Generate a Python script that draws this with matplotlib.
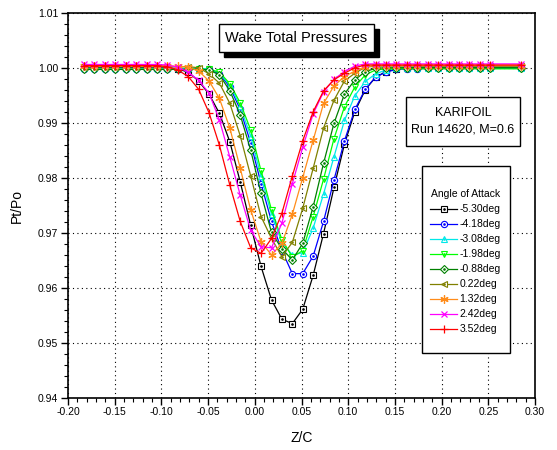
import matplotlib
matplotlib.use('Agg')
import matplotlib.pyplot as plt
from matplotlib.patches import Rectangle
from matplotlib.legend_handler import HandlerTuple
from matplotlib.ticker import MultipleLocator, FormatStrFormatter

plt.rcParams['font.family'] = ['Liberation Sans', 'DejaVu Sans']

# -- traverse positions (Z/C) --
Z = [-0.1828, -0.1717, -0.1605, -0.1494, -0.1382, -0.1271, -0.1159, -0.1048,
     -0.0936, -0.0825, -0.0713, -0.0602, -0.0490, -0.0379, -0.0267, -0.0156,
     -0.0044, 0.0067, 0.0179, 0.0290, 0.0402, 0.0513, 0.0625, 0.0736,
     0.0848, 0.0960, 0.1071, 0.1183, 0.1294, 0.1406, 0.1517, 0.1629,
     0.1740, 0.1852, 0.1963, 0.2075, 0.2186, 0.2298, 0.2409, 0.2521, 0.2855]

# -- Pt/Po for each angle of attack --
P_m530 = [1.0002, 1.0002, 1.0001, 1.0002, 1.0001, 1.0002, 1.0001, 1.0001, 1.0001, 0.9999,
          0.9993, 0.9977, 0.9953, 0.9918, 0.9866, 0.9793, 0.9714, 0.9639, 0.9578, 0.9543,
          0.9535, 0.9561, 0.9623, 0.9699, 0.9783, 0.9862, 0.9921, 0.9961, 0.9984, 0.9994,
          0.9999, 1.0001, 1.0002, 1.0002, 1.0002, 1.0002, 1.0002, 1.0002, 1.0002, 1.0002, 1.0002]
P_m418 = [0.9999, 0.9999, 0.9999, 0.9999, 0.9999, 0.9999, 0.9999, 0.9999, 0.9999, 0.9999,
          0.9999, 0.9999, 0.9998, 0.9990, 0.9966, 0.9925, 0.9864, 0.9790, 0.9721, 0.9668,
          0.9626, 0.9626, 0.9658, 0.9721, 0.9797, 0.9868, 0.9925, 0.9962, 0.9984, 0.9993,
          0.9998, 0.9999, 0.9999, 1.0000, 1.0000, 1.0000, 1.0000, 1.0000, 1.0000, 1.0000, 1.0000]
P_m308 = [1.0000, 1.0000, 1.0000, 1.0000, 1.0000, 1.0000, 1.0000, 1.0000, 1.0000, 1.0000,
          1.0000, 1.0000, 0.9999, 0.9992, 0.9969, 0.9931, 0.9876, 0.9803, 0.9734, 0.9683,
          0.9660, 0.9664, 0.9709, 0.9771, 0.9839, 0.9905, 0.9950, 0.9976, 0.9990, 0.9997,
          1.0000, 1.0000, 1.0000, 1.0000, 1.0000, 1.0000, 1.0000, 1.0000, 1.0000, 1.0000, 1.0000]
P_m198 = [0.9998, 0.9998, 0.9998, 0.9998, 0.9998, 0.9998, 0.9998, 0.9998, 0.9998, 0.9998,
          0.9998, 0.9998, 0.9998, 0.9993, 0.9972, 0.9937, 0.9888, 0.9813, 0.9742, 0.9688,
          0.9656, 0.9668, 0.9730, 0.9798, 0.9872, 0.9930, 0.9966, 0.9988, 0.9997, 0.9999,
          0.9999, 0.9999, 0.9999, 0.9999, 0.9999, 0.9999, 0.9999, 0.9999, 0.9999, 0.9999, 0.9999]
P_m088 = [0.9998, 0.9998, 0.9998, 0.9998, 0.9998, 0.9998, 0.9998, 0.9998, 0.9998, 0.9998,
          0.9998, 0.9998, 0.9997, 0.9988, 0.9959, 0.9915, 0.9851, 0.9772, 0.9701, 0.9671,
          0.9651, 0.9681, 0.9748, 0.9827, 0.9900, 0.9953, 0.9979, 0.9994, 1.0000, 1.0001,
          1.0001, 1.0001, 1.0001, 1.0001, 1.0001, 1.0001, 1.0001, 1.0001, 1.0001, 1.0001, 1.0001]
P_p022 = [1.0003, 1.0003, 1.0003, 1.0003, 1.0003, 1.0003, 1.0003, 1.0003, 1.0003, 1.0003,
          1.0003, 1.0001, 0.9990, 0.9973, 0.9936, 0.9877, 0.9804, 0.9730, 0.9690, 0.9657,
          0.9683, 0.9745, 0.9818, 0.9891, 0.9942, 0.9977, 0.9991, 1.0002, 1.0004, 1.0004,
          1.0004, 1.0004, 1.0004, 1.0004, 1.0004, 1.0004, 1.0004, 1.0004, 1.0004, 1.0004, 1.0004]
P_p132 = [1.0004, 1.0004, 1.0004, 1.0004, 1.0004, 1.0004, 1.0004, 1.0004, 1.0004, 1.0004,
          1.0002, 0.9995, 0.9977, 0.9945, 0.9891, 0.9818, 0.9742, 0.9684, 0.9660, 0.9681,
          0.9734, 0.9801, 0.9869, 0.9936, 0.9968, 0.9985, 0.9995, 1.0003, 1.0005, 1.0005,
          1.0005, 1.0005, 1.0005, 1.0005, 1.0005, 1.0005, 1.0005, 1.0005, 1.0005, 1.0005, 1.0005]
P_p242 = [1.0007, 1.0007, 1.0007, 1.0007, 1.0007, 1.0007, 1.0007, 1.0007, 1.0006, 1.0002,
          0.9993, 0.9978, 0.9955, 0.9906, 0.9838, 0.9769, 0.9705, 0.9675, 0.9673, 0.9718,
          0.9790, 0.9856, 0.9917, 0.9957, 0.9980, 0.9994, 1.0004, 1.0008, 1.0008, 1.0008,
          1.0008, 1.0008, 1.0008, 1.0008, 1.0008, 1.0008, 1.0008, 1.0008, 1.0008, 1.0008, 1.0008]
P_p352 = [1.0005, 1.0005, 1.0005, 1.0005, 1.0005, 1.0005, 1.0005, 1.0005, 1.0003, 0.9997,
          0.9985, 0.9962, 0.9919, 0.9860, 0.9787, 0.9721, 0.9673, 0.9663, 0.9690, 0.9736,
          0.9804, 0.9868, 0.9921, 0.9959, 0.9979, 0.9991, 1.0001, 1.0006, 1.0006, 1.0006,
          1.0006, 1.0006, 1.0006, 1.0006, 1.0006, 1.0006, 1.0006, 1.0006, 1.0006, 1.0006, 1.0006]

LABELS = ['-5.30deg', '-4.18deg', '-3.08deg', '-1.98deg', '-0.88deg',
          '0.22deg', '1.32deg', '2.42deg', '3.52deg']
SERIES = [P_m530, P_m418, P_m308, P_m198, P_m088, P_p022, P_p132, P_p242, P_p352]

COLORS = ['#000000', '#0000FF', '#00E8E8', '#00FF00', '#008000',
          '#808000', '#FF8C1A', '#FF00FF', '#FF0000']
MARKERS = ['s', 'o', '^', 'v', 'D', '<', (6, 2, 0), 'x', '+']
MSIZE = [4, 4.5, 4.5, 4.5, 3.8, 4.5, 6, 5, 6]
OPEN = [True, True, True, True, True, True, False, False, False]

W, H = 557, 450


def fx(x):
    return x / W


def fy(y):
    return 1 - y / H


fig = plt.figure(figsize=(W / 100, H / 100), dpi=100)
ax = fig.add_axes([fx(68), fy(397.7), (535 - 68) / W, (397.7 - 13.4) / H])

handles = []
for lab, ys, c, m, ms, op in zip(LABELS, SERIES, COLORS, MARKERS, MSIZE, OPEN):
    if op:
        ln, = ax.plot(Z, ys, color=c, lw=0.9, marker=m, ms=ms,
                      mfc='white', mec=c, mew=0.8)
        dot, = ax.plot(Z, ys, ls='none', marker='o', ms=0.9, color=c)
        handles.append((ln, dot))
    else:
        ln, = ax.plot(Z, ys, color=c, lw=0.9, marker=m, ms=ms, mec=c, mew=0.9)
        handles.append(ln)

ax.set_xlim(-0.20, 0.30)
ax.set_ylim(0.94, 1.01)
ax.xaxis.set_major_locator(MultipleLocator(0.05))
ax.xaxis.set_minor_locator(MultipleLocator(0.01))
ax.yaxis.set_major_locator(MultipleLocator(0.01))
ax.yaxis.set_minor_locator(MultipleLocator(0.002))
ax.xaxis.set_major_formatter(FormatStrFormatter('%.2f'))
ax.yaxis.set_major_formatter(FormatStrFormatter('%.2f'))
ax.tick_params(which='major', direction='out', length=5, width=1, labelsize=7.5, pad=2)
ax.tick_params(which='minor', direction='out', length=3, width=0.8)
ax.grid(True, which='major', color='black', ls=(0, (1, 3)), lw=0.8)
ax.set_axisbelow(True)
for sp in ax.spines.values():
    sp.set_linewidth(1.2)

ax.set_xlabel('Z/C', fontsize=10, labelpad=10)
ax.set_ylabel('Pt/Po', fontsize=10, labelpad=10)

# title box with drop shadow
fig.patches.append(Rectangle((fx(224), fy(57)), 155 / W, 28 / H, transform=fig.transFigure,
                             facecolor='black', edgecolor='black', zorder=5))
fig.patches.append(Rectangle((fx(219), fy(52)), 155 / W, 28 / H, transform=fig.transFigure,
                             facecolor='white', edgecolor='black', lw=1, zorder=6))
fig.text(fx(296.5), fy(38), 'Wake Total Pressures', ha='center', va='center',
         fontsize=10.5, zorder=7)

# run info box
fig.patches.append(Rectangle((fx(406), fy(146)), 114 / W, 49 / H, transform=fig.transFigure,
                             facecolor='white', edgecolor='black', lw=1, zorder=6))
fig.text(fx(463), fy(113), 'KARIFOIL', ha='center', va='center', fontsize=9, zorder=7)
fig.text(fx(463), fy(130), 'Run 14620, M=0.6', ha='center', va='center', fontsize=9, zorder=7)

# legend box
fig.patches.append(Rectangle((fx(422), fy(353)), 88 / W, 187 / H, transform=fig.transFigure,
                             facecolor='white', edgecolor='black', lw=1, zorder=6))
leg = fig.legend(handles, LABELS, loc='upper left', bbox_to_anchor=(fx(425), fy(184)),
                 frameon=False, fontsize=7.5, title='Angle of Attack', title_fontsize=7.5,
                 handlelength=2.6, handletextpad=0.2, labelspacing=0.48, borderpad=0,
                 handler_map={tuple: HandlerTuple(ndivide=1)})
leg.set_zorder(8)

fig.savefig('out.png', dpi=100)
